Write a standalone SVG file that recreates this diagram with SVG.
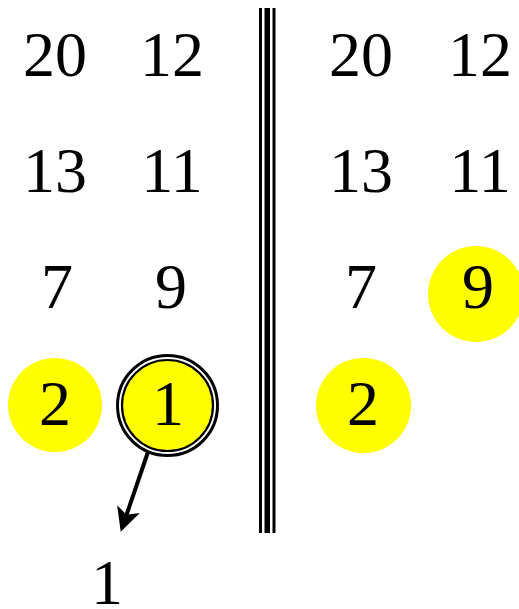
<svg xmlns="http://www.w3.org/2000/svg" width="519" height="609" viewBox="0 0 519 609">
<style>
text{font-family:"Liberation Serif","Times New Roman",serif;font-size:64px;fill:#000;text-anchor:middle}
.hl{fill:#ffff00}
.bar{fill:#000}
</style>
<defs>
<marker id="ah" markerWidth="6" markerHeight="6" refX="5" refY="3" orient="auto" markerUnits="strokeWidth">
<path d="M0,0 L6,3 L0,6 L1.5,3 Z" fill="#000"/>
</marker>
</defs>
<rect width="519" height="609" fill="#fff"/>
<g id="divider">
<rect class="bar" x="259" y="8" width="3" height="525"/>
<rect class="bar" x="264.5" y="8" width="5.5" height="525"/>
<rect class="bar" x="272.5" y="8" width="3" height="525"/>
</g>
<g id="L20"><text x="55" y="76">20</text></g>
<g id="L12"><text x="172" y="76">12</text></g>
<g id="L13"><text x="55" y="192">13</text></g>
<g id="L11"><text x="172" y="192">11</text></g>
<g id="L7"><text x="57" y="308">7</text></g>
<g id="L9"><text x="171" y="308">9</text></g>
<g id="L2"><circle class="hl" cx="55" cy="405" r="47"/><text x="55" y="425">2</text></g>
<g id="L1"><circle cx="167.5" cy="405.5" r="50" fill="#fff" stroke="#000" stroke-width="3"/><circle cx="167.5" cy="405.5" r="45.5" class="hl" stroke="#000" stroke-width="2.2"/><text x="168" y="425">1</text></g>
<g id="R20"><text x="361" y="76">20</text></g>
<g id="R12"><text x="480" y="76">12</text></g>
<g id="R13"><text x="361" y="192">13</text></g>
<g id="R11"><text x="480" y="192">11</text></g>
<g id="R7"><text x="361" y="308">7</text></g>
<g id="R9"><circle class="hl" cx="476" cy="294" r="48"/><text x="478" y="308">9</text></g>
<g id="R2"><circle class="hl" cx="363.5" cy="405.5" r="47.5"/><text x="363" y="425">2</text></g>
<g id="out1"><text x="107" y="604">1</text></g>
<g id="connectors">
<line x1="148" y1="452" x2="122" y2="528" stroke="#000" stroke-width="4" marker-end="url(#ah)"/>
</g>
</svg>
